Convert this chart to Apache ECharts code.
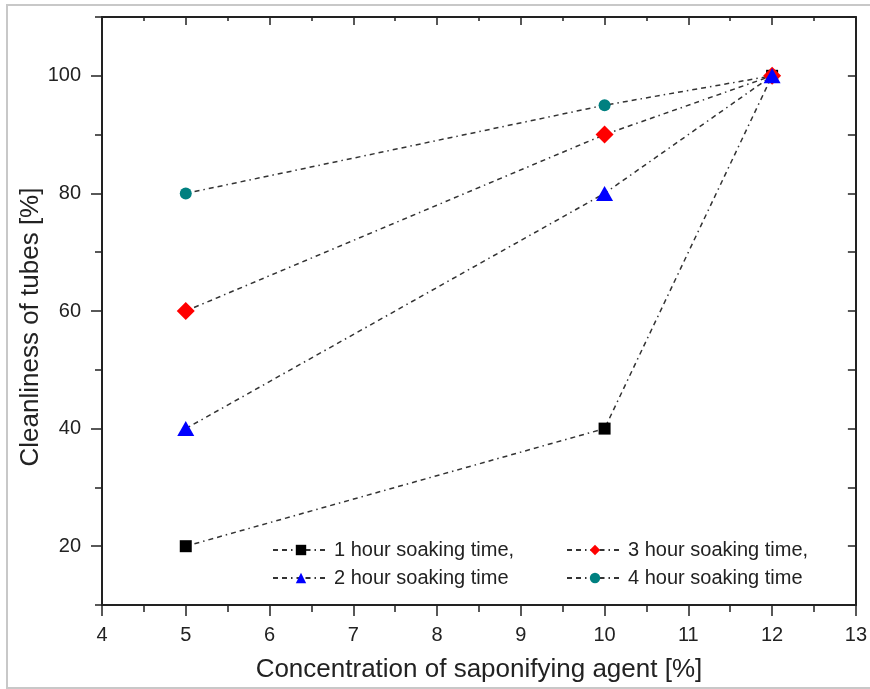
<!DOCTYPE html>
<html>
<head>
<meta charset="utf-8">
<script src="https://cdn.jsdelivr.net/npm/echarts@6/dist/echarts.min.js"></script>
<style>
  html, body { margin: 0; padding: 0; background: #fff; }
  #chart { width: 870px; height: 689px; }
</style>
</head>
<body>
<div id="chart"></div>
<script>
// concentration of saponifying agent [%]
const concentration = [5, 10, 12]
// cleanliness [%] per soaking time
const hour1 = [20, 40, 100]
const hour2 = [40, 80, 100]
const hour3 = [60, 90, 100]
const hour4 = [80, 95, 100]
const names = ['1 hour soaking time,', '2 hour soaking time', '3 hour soaking time,', '4 hour soaking time']
const yLabelTicks = [20, 40, 60, 80, 100]
const yMinorTicks = [10, 30, 50, 70, 90, 110]

const ink = '#222'
const font = 'Liberation Sans, Arial, sans-serif'
const dash = [5, 4, 5, 4, 1.5, 4]

const pairs = vals => concentration.map((x, i) => [x, vals[i]])

function line(name, vals, symbol, size, color) {
    return {
        name: name,
        type: 'line',
        data: pairs(vals),
        symbol: symbol,
        symbolSize: size,
        itemStyle: {color: color},
        lineStyle: {color: '#333', width: 1.5, type: dash},
        emphasis: {disabled: true}
    }
}

function legendBlock(items, left) {
    return {
        data: items,
        orient: 'vertical',
        left: left, top: 540,
        padding: 0,
        itemWidth: 56, itemHeight: 13, itemGap: 8,
        textStyle: {fontFamily: font, fontSize: 20, color: ink},
        selectedMode: false
    }
}

const hiddenLabels = {show: false}

let option = {
    backgroundColor: '#fff',
    animation: false,
    grid: {left: 102, right: 11, top: 17, bottom: 84},
    graphic: [{
        type: 'rect',
        shape: {x: 7, y: 5, width: 870, height: 683},
        style: {fill: 'none', stroke: '#c8c8c8', lineWidth: 2},
        silent: true
    }],
    legend: [
        legendBlock([names[0], names[1]], 272),
        legendBlock([names[2], names[3]], 566)
    ],
    xAxis: [
        {
            type: 'value', position: 'bottom',
            min: 4, max: 13, interval: 1,
            name: 'Concentration of saponifying agent [%]',
            nameLocation: 'middle', nameGap: 52,
            nameTextStyle: {fontFamily: font, fontSize: 26, color: ink},
            axisLine: {show: true, onZero: false, lineStyle: {color: ink, width: 2}},
            axisTick: {show: true, length: 11, lineStyle: {color: ink, width: 1.5}},
            minorTick: {show: true, splitNumber: 2, length: 7, lineStyle: {color: ink, width: 1.5}},
            axisLabel: {fontFamily: font, fontSize: 20, color: ink, margin: 20},
            splitLine: {show: false}
        },
        {
            type: 'value', position: 'top',
            min: 4, max: 13, interval: 1,
            axisLine: {show: true, onZero: false, lineStyle: {color: ink, width: 2}},
            axisTick: {show: true, inside: true, length: 8, lineStyle: {color: ink, width: 1.5}},
            minorTick: {show: true, splitNumber: 2, length: 4, lineStyle: {color: ink, width: 1.5}},
            axisLabel: hiddenLabels,
            splitLine: {show: false}
        }
    ],
    yAxis: [
        {
            type: 'value', position: 'left',
            min: 10, max: 110, interval: 10,
            name: 'Cleanliness of tubes [%]',
            nameLocation: 'middle', nameGap: 58,
            nameMoveOverlap: false,
            nameTextStyle: {fontFamily: font, fontSize: 26, color: ink, padding: [0, 32, 0, 0]},
            axisLine: {show: true, onZero: false, lineStyle: {color: ink, width: 2}},
            axisTick: {show: true, length: 11, customValues: yLabelTicks, lineStyle: {color: ink, width: 1.5}},
            axisLabel: {fontFamily: font, fontSize: 20, color: ink, margin: 21, customValues: yLabelTicks},
            splitLine: {show: false}
        },
        {
            type: 'value', position: 'left',
            min: 10, max: 110, interval: 10,
            axisLine: {show: false},
            axisTick: {show: true, length: 7, customValues: yMinorTicks, lineStyle: {color: ink, width: 1.5}},
            axisLabel: hiddenLabels,
            splitLine: {show: false}
        },
        {
            type: 'value', position: 'right',
            min: 10, max: 110, interval: 10,
            axisLine: {show: true, onZero: false, lineStyle: {color: ink, width: 2}},
            axisTick: {show: true, inside: true, length: 8, lineStyle: {color: ink, width: 1.5}},
            axisLabel: hiddenLabels,
            splitLine: {show: false}
        }
    ],
    // drawing order: blue triangle ends up on top at (12,100)
    series: [
        line(names[0], hour1, 'rect', 12, '#000000'),
        line(names[3], hour4, 'circle', 12, '#008080'),
        line(names[2], hour3, 'diamond', [18, 18], '#ff0000'),
        line(names[1], hour2, 'triangle', [17, 15], '#0000ff')
    ]
}

let chart = echarts.init(document.getElementById('chart'))
chart.setOption(option)
</script>
</body>
</html>
